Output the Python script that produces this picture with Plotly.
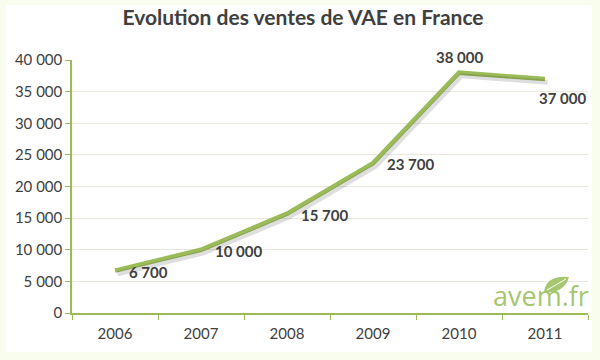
import plotly.graph_objects as go

years = ["2006", "2007", "2008", "2009", "2010", "2011"]
sales = [6700, 10000, 15700, 23700, 38000, 37000]
label_pos = ["right", "right", "right", "right", "top", "below"]
y_ticks = [0, 5000, 10000, 15000, 20000, 25000, 30000, 35000, 40000]

GREEN = "#9bbb59"
TEXT = "#404040"
FONT = "Lato"

idx = list(range(len(years)))

fig = go.Figure()

# soft shadow of the line (same data on an offset overlay axis)
fig.add_trace(go.Scatter(x=idx, y=sales, mode="lines",
                         line=dict(color="rgba(0,0,0,0.13)", width=5),
                         xaxis="x2", yaxis="y2", hoverinfo="skip", showlegend=False))

fig.add_trace(go.Scatter(x=years, y=sales, mode="lines",
                         line=dict(color=GREEN, width=4.5),
                         showlegend=False))

def fmt(v):
    return f"{v:,}".replace(",", " ")

for i, v, pos in zip(idx, sales, label_pos):
    common = dict(x=i, y=v, xref="x", yref="y", text="<b>" + fmt(v) + "</b>", showarrow=False,
                  font=dict(family=FONT, size=15, color=TEXT))
    if pos == "right":
        fig.add_annotation(**common, xanchor="left", yanchor="middle", xshift=12, yshift=-1)
    elif pos == "top":
        fig.add_annotation(**common, xanchor="center", yanchor="middle", yshift=16)
    else:
        fig.add_annotation(**common, xanchor="center", yanchor="middle", xshift=17, yshift=-19)

# watermark
fig.add_annotation(xref="paper", yref="paper", x=1.0, y=0.0, xanchor="right", yanchor="bottom",
                   text="avem.fr", showarrow=False, yshift=-3, xshift=3,
                   font=dict(family="Open Sans", size=27, color="#a6c66f"))
fig.add_shape(type="path", xref="paper", yref="paper", xsizemode="pixel", ysizemode="pixel",
              xanchor=1.0, yanchor=0.0, layer="above",
              path="M -44,21 Q -42,38 -19,36 Q -24,19 -44,21 Z",
              fillcolor="#a6c66f", line=dict(width=0))
fig.add_shape(type="path", xref="paper", yref="paper", xsizemode="pixel", ysizemode="pixel",
              xanchor=1.0, yanchor=0.0, layer="above",
              path="M -41,23 Q -32,28 -22,34",
              line=dict(color="white", width=1))

# white panel
fig.add_shape(type="rect", xref="paper", yref="paper", layer="below",
              x0=(6 - 72) / 516, x1=(592 - 72) / 516,
              y0=(313 - 352) / 253, y1=(313 - 5) / 253,
              fillcolor="white", line=dict(width=0))

fig.update_layout(
    width=600, height=360,
    margin=dict(l=72, r=12, t=60, b=47),
    paper_bgcolor="#f8fdee",
    plot_bgcolor="white",
    separators=". ",
    title=dict(text="<b>Evolution des ventes de VAE en France</b>",
               x=303 / 600, xanchor="center", y=1 - 18 / 360, yanchor="middle",
               font=dict(family=FONT, size=21, color=TEXT)),
    xaxis=dict(type="category", range=[-0.5, 5.5], showgrid=False,
               showline=True, linecolor=GREEN, linewidth=1.5,
               ticks="outside", ticklen=5, tickcolor=GREEN, tickson="boundaries",
               tickfont=dict(family=FONT, size=15, color=TEXT), ticklabelstandoff=6),
    yaxis=dict(range=[0, 40000], tickvals=y_ticks, tickformat=",d",
               showgrid=True, gridcolor="#e8e8dc", gridwidth=1,
               showline=True, linecolor=GREEN, linewidth=1.5,
               ticks="outside", ticklen=5, tickcolor=GREEN,
               tickfont=dict(family=FONT, size=15, color=TEXT), zeroline=False),
    xaxis2=dict(overlaying="x", range=[-0.5 - 2.5 / 86, 5.5 - 2.5 / 86], visible=False),
    yaxis2=dict(overlaying="y", range=[500, 40500], visible=False),
)

fig.write_html("out.html", config={"displayModeBar": False},
               post_script="document.body.style.margin='0';")
